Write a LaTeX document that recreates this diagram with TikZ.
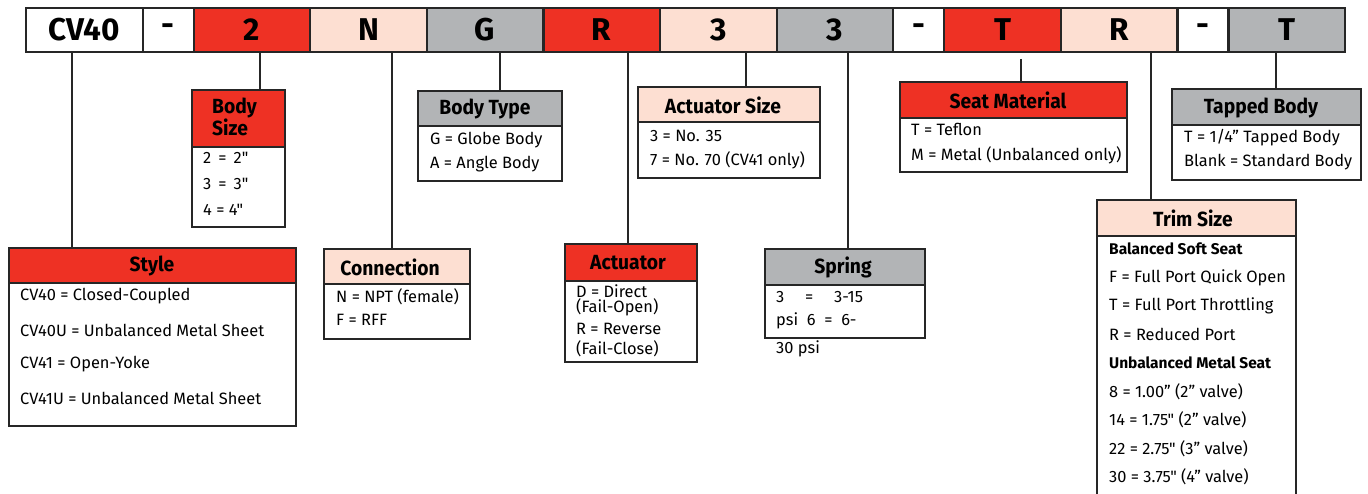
\documentclass[tikz,border=0pt]{standalone}
\usepackage{fontspec}
\setmainfont{Fira Sans}[Ligatures=TeXOff]
\newfontfamily\barfont{Fira Sans}
\newfontfamily\ttlfont[FakeStretch=0.94]{Fira Sans}
\definecolor{cred}{HTML}{EE3124}
\definecolor{cpeach}{HTML}{FDDFD2}
\definecolor{cgray}{HTML}{B2B4B6}
\tikzset{
  cell/.style={draw=black!85, line width=2.2pt, minimum height=44pt, anchor=north west, inner sep=0pt, outer sep=0pt,
    font=\barfont\bfseries\fontsize{31.5}{31.5}\selectfont},
  wide/.style={cell, minimum width=116.6pt},
  narrow/.style={cell, minimum width=51pt},
  hdr/.style={draw=black!85, line width=2.6pt, anchor=north west, inner sep=0pt, outer sep=0pt},
  bodybox/.style={draw=black!85, line width=2.6pt, fill=white, anchor=north west, inner sep=0pt, outer sep=0pt},
  ttl/.style={font=\ttlfont\bfseries\fontsize{20.5}{22}\selectfont, inner sep=0pt},
  txt/.style={font=\fontsize{16.4}{17}\selectfont, anchor=west, inner sep=0pt},
  btxt/.style={txt, font=\bfseries\fontsize{15.5}{17}\selectfont},
  conn/.style={line width=2.2pt, draw=black!85}
}
\begin{document}
\begin{tikzpicture}[x=1pt,y=-1pt]
\useasboundingbox (0,0) rectangle (1368,494);
% top bar
\node[wide, fill=white] (c1) at (26,8) {CV40};
\node[narrow, fill=white] (c2) at (c1.north east) {-};
\node[wide, fill=cred] (c3) at (c2.north east) {2};
\node[wide, fill=cpeach] (c4) at (c3.north east) {N};
\node[wide, fill=cgray] (c5) at (c4.north east) {G};
\node[wide, fill=cred] (c6) at (c5.north east) {R};
\node[wide, fill=cpeach] (c7) at (c6.north east) {3};
\node[wide, fill=cgray] (c8) at (c7.north east) {3};
\node[narrow, fill=white] (c9) at (c8.north east) {-};
\node[wide, fill=cred] (c10) at (c9.north east) {T};
\node[wide, fill=cpeach] (c11) at (c10.north east) {R};
\node[narrow, fill=white] (c12) at (c11.north east) {-};
\node[wide, fill=cgray] (c13) at (c12.north east) {T};

% Body Size
\node[hdr, fill=cred, minimum width=93pt, minimum height=57pt] (bsh) at (192,90) {};
\node[bodybox, minimum width=93pt, minimum height=80pt] (bsb) at (bsh.south west) {};
\node[ttl, anchor=north west, align=left, font=\ttlfont\bfseries\fontsize{20.5}{20}\selectfont] (bst) at (212,98) {Body\\Size};
\node[txt] (bs1) at (203,158) {2 \,=\, 2"};
\node[txt] (bs2) at (203,184) {3 \,=\, 3"};
\node[txt] (bs3) at (203,210) {4 = 4"};

% Style
\node[hdr, fill=cred, minimum width=287pt, minimum height=35pt] (sth) at (9,248) {};
\node[bodybox, minimum width=287pt, minimum height=143pt] (stb) at (sth.south west) {};
\node[ttl] (stt) at (152,266) {Style};
\node[txt] (st1) at (20,296) {CV40 = Closed-Coupled};
\node[txt] (st2) at (20,330) {CV40U = Unbalanced Metal Sheet};
\node[txt] (st3) at (20,364) {CV41 = Open-Yoke};
\node[txt] (st4) at (20,398) {CV41U = Unbalanced Metal Sheet};

% Body Type
\node[hdr, fill=cgray, minimum width=144pt, minimum height=35pt] (bth) at (418,91) {};
\node[bodybox, minimum width=144pt, minimum height=55pt] (btb) at (bth.south west) {};
\node[ttl] (btt) at (485,109) {Body Type};
\node[txt] (bt1) at (430,140) {G = Globe Body};
\node[txt] (bt2) at (430,164) {A = Angle Body};

% Connection
\node[hdr, fill=cpeach, minimum width=146pt, minimum height=35pt] (cnh) at (324,249) {};
\node[bodybox, minimum width=146pt, minimum height=55pt] (cnb) at (cnh.south west) {};
\node[ttl] (cnt) at (390,267) {Connection};
\node[txt] (cn1) at (336,297) {N = NPT (female)};
\node[txt] (cn2) at (336,320) {F = RFF};

% Actuator
\node[hdr, fill=cred, minimum width=132pt, minimum height=37pt] (ach) at (565,244) {};
\node[bodybox, minimum width=132pt, minimum height=81pt] (acb) at (ach.south west) {};
\node[ttl] (act) at (628,263) {Actuator};
\node[txt] (ac1) at (576,291) {D = Direct};
\node[txt] (ac2) at (576,307) {(Fail-Open)};
\node[txt] (ac3) at (576,329) {R = Reverse};
\node[txt] (ac4) at (576,349) {(Fail-Close)};

% Actuator Size
\node[hdr, fill=cpeach, minimum width=182pt, minimum height=35pt] (ash) at (638,87) {};
\node[bodybox, minimum width=182pt, minimum height=56pt] (asb) at (ash.south west) {};
\node[ttl] (ast) at (723,105) {Actuator Size};
\node[txt] (as1) at (650,136) {3 = No. 35};
\node[txt] (as2) at (650,160) {7 = No. 70 (CV41 only)};

% Spring
\node[hdr, fill=cgray, minimum width=160pt, minimum height=36pt] (sph) at (765,249) {};
\node[bodybox, minimum width=160pt, minimum height=53pt] (spb) at (sph.south west) {};
\node[ttl] (spt) at (843,267) {Spring};
\node[txt] (sp1) at (776,297) {3 \quad= \quad3-15};
\node[txt] (sp2) at (776,321) {psi \ 6 \ = \ 6-};
\node[txt] (sp3) at (776,349) {30 psi};

% Seat Material
\node[hdr, fill=cred, minimum width=227pt, minimum height=36pt] (smh) at (900,82) {};
\node[bodybox, minimum width=227pt, minimum height=54pt] (smb) at (smh.south west) {};
\node[ttl] (smt) at (1008,100) {Seat Material};
\node[txt] (sm1) at (911,129) {T = Teflon};
\node[txt] (sm2) at (911,155) {M = Metal (Unbalanced only)};

% Tapped Body
\node[hdr, fill=cgray, minimum width=189pt, minimum height=36pt] (tbh) at (1172,89) {};
\node[bodybox, minimum width=189pt, minimum height=55pt] (tbb) at (tbh.south west) {};
\node[ttl] (tbt) at (1261,108) {Tapped Body};
\node[txt] (tb1) at (1184,138) {T = 1/4” Tapped Body};
\node[txt] (tb2) at (1184,162) {Blank = Standard Body};

% Trim Size
\node[hdr, fill=cpeach, minimum width=199pt, minimum height=36pt] (tsh) at (1097,200) {};
\node[bodybox, minimum width=199pt, minimum height=280pt] (tsb) at (tsh.south west) {};
\node[ttl] (tst) at (1193,218) {Trim Size};
\node[btxt] (ts1) at (1109,249) {Balanced Soft Seat};
\node[txt] (ts2) at (1109,278) {F = Full Port Quick Open};
\node[txt] (ts3) at (1109,306) {T = Full Port Throttling};
\node[txt] (ts4) at (1109,334) {R = Reduced Port};
\node[btxt] (ts5) at (1109,363) {Unbalanced Metal Seat};
\node[txt] (ts6) at (1109,392) {8 = 1.00” (2” valve)};
\node[txt] (ts7) at (1109,420) {14 = 1.75" (2” valve)};
\node[txt] (ts8) at (1109,449) {22 = 2.75" (3” valve)};
\node[txt] (ts9) at (1109,477) {30 = 3.75" (4” valve)};

% connectors
\coordinate (p1) at (72,0);
\coordinate (p3) at (260,0);
\coordinate (p4) at (392,0);
\coordinate (p5) at (500,0);
\coordinate (p6) at (628,0);
\coordinate (p7) at (746,0);
\coordinate (p8) at (848,0);
\coordinate (p10) at (1021,0);
\coordinate (p11) at (1151,0);
\coordinate (p13) at (1276,0);
\draw[conn] (p1 |- c1.south) -- (p1 |- sth.north);
\draw[conn] (p3 |- c3.south) -- (p3 |- bsh.north);
\draw[conn] (p4 |- c4.south) -- (p4 |- cnh.north);
\draw[conn] (p5 |- c5.south) -- (p5 |- bth.north);
\draw[conn] (p6 |- c6.south) -- (p6 |- ach.north);
\draw[conn] (p7 |- c7.south) -- (p7 |- ash.north);
\draw[conn] (p8 |- c8.south) -- (p8 |- sph.north);
\draw[conn] ([yshift=-7pt]p10 |- c10.south) -- (p10 |- smh.north);
\draw[conn] (p11 |- c11.south) -- (p11 |- tsh.north);
\draw[conn] (p13 |- c13.south) -- (p13 |- tbh.north);
\end{tikzpicture}
\end{document}
